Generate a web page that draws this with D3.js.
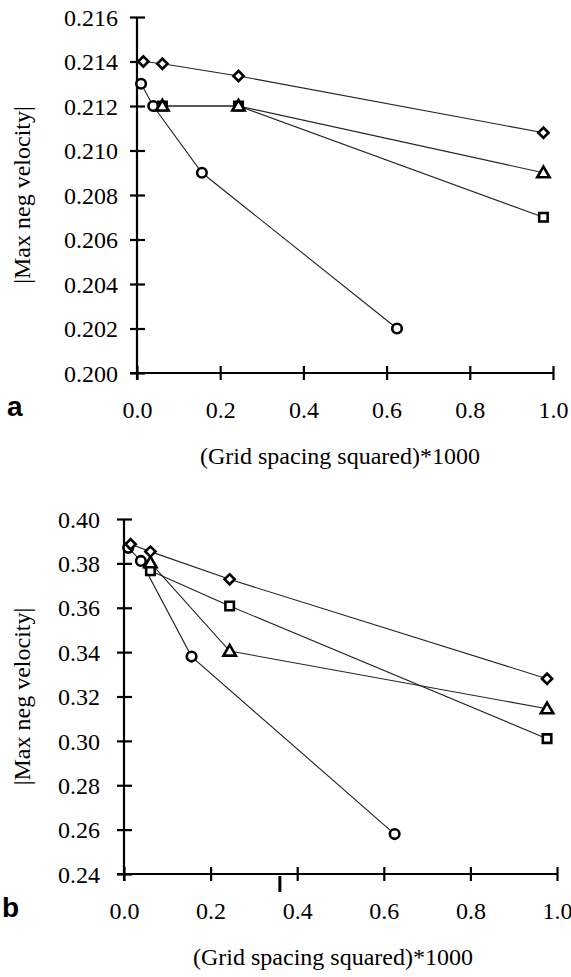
<!DOCTYPE html>
<html>
<head>
<meta charset="utf-8">
<script src="https://cdn.jsdelivr.net/npm/d3@7"></script>
<style>
  html, body { margin: 0; padding: 0; background: #fff; }
  svg { display: block; }
  svg text.serif { font-family: "Liberation Serif", "Times New Roman", Times, serif; }
</style>
</head>
<body>
<svg id="chart" width="571" height="977"></svg>
<script>
// ---- Data ----
// x values: (grid spacing squared)*1000
const xFine = [0.0153, 0.061, 0.244, 0.977];   // diamond series
const xMid = [0.061, 0.244, 0.977];             // square / triangle series
const xCircle = [0.0098, 0.039, 0.156, 0.625];  // circle series

// Panel a
const aDiamond = [0.2140, 0.2139, 0.21335, 0.2108];
const aSquare = [0.2120, 0.2120, 0.2070];
const aTriangle = [0.2120, 0.2120, 0.2090];
const aCircle = [0.2130, 0.2120, 0.2090, 0.2020];

// Panel b
const bDiamond = [0.3886, 0.3853, 0.3728, 0.3280];
const bSquare = [0.3767, 0.3608, 0.3010];
const bTriangle = [0.3803, 0.3405, 0.3145];
const bCircle = [0.3870, 0.3811, 0.3380, 0.2580];

const xTicks = [0.0, 0.2, 0.4, 0.6, 0.8, 1.0];
const aYTicks = [0.200, 0.202, 0.204, 0.206, 0.208, 0.210, 0.212, 0.214, 0.216];
const bYTicks = [0.24, 0.26, 0.28, 0.30, 0.32, 0.34, 0.36, 0.38, 0.40];

const xTitle = "(Grid spacing squared)*1000";
const yTitle = "|Max neg velocity|";

const svg = d3.select("#chart");
const SERIF = "\"Liberation Serif\", \"Times New Roman\", Times, serif";

function zip(xs, ys) { return xs.map((x, i) => ({x: x, y: ys[i]})); }

function drawPanel(opt) {
  const x = d3.scaleLinear().domain([0, 1]).range(opt.xRange);
  const y = d3.scaleLinear().domain(opt.yDomain).range(opt.yRange);
  const g = svg.append("g");

  // axes
  const yAxis = d3.axisLeft(y).tickValues(opt.yTicks).tickFormat(d3.format(opt.yFmt)).tickSizeOuter(0).tickSize(7);
  const gy = g.append("g").attr("transform", `translate(${opt.xRange[0]},0)`).call(yAxis);
  const xAxis = d3.axisBottom(x).tickValues(xTicks).tickFormat(d3.format(".1f")).tickSizeOuter(0).tickSize(7);
  const gx = g.append("g").attr("transform", `translate(0,${opt.yRange[0]})`).call(xAxis);

  [gy, gx].forEach(a => {
    a.attr("font-family", null).attr("font-size", null);
    a.select(".domain").attr("stroke", "#000").attr("stroke-width", 2.2);
    a.selectAll(".tick line").attr("stroke", "#000").attr("stroke-width", 2.2);
    a.selectAll(".tick text").attr("class", "serif").style("font-family", SERIF)
      .style("font-size", "24px").attr("fill", "#000");
  });
  gy.selectAll(".tick line").attr("x1", -7).attr("x2", 8);
  gy.selectAll(".tick text").attr("x", -opt.yLabelGap).attr("dy", "0.34em");
  gx.selectAll(".tick line").attr("y1", -7).attr("y2", 7);
  gx.selectAll(".tick text").attr("y", 45).attr("dy", 0);
  // extend axes lines through the corner
  gy.select(".domain").attr("d", `M0,${opt.yRange[1]}V${opt.yRange[0] + 7}`);
  gx.select(".domain").attr("d", `M${opt.xRange[0] - 7},0H${opt.xRange[1]}`);

  // lines
  const line = d3.line().x(d => x(d.x)).y(d => y(d.y));
  const series = [
    {pts: zip(xCircle, opt.circle), type: "circle"},
    {pts: zip(xMid, opt.square), type: "square"},
    {pts: zip(xMid, opt.triangle), type: "triangle"},
    {pts: zip(xFine, opt.diamond), type: "diamond"}
  ];
  series.forEach(s => {
    g.append("path").datum(s.pts).attr("d", line)
      .attr("fill", "none").attr("stroke", "#222").attr("stroke-width", 1.1);
  });
  const symType = {
    circle: d3.symbolCircle, square: d3.symbolSquare,
    triangle: d3.symbolTriangle, diamond: d3.symbolSquare
  };
  const symSize = {circle: 72, square: 72, triangle: 66, diamond: 52};
  series.forEach(s => {
    g.selectAll(null).data(s.pts).enter().append("path")
      .attr("d", d3.symbol().type(symType[s.type]).size(symSize[s.type]))
      .attr("transform", d => {
        const dy = s.type === "triangle" ? 1 : 0;
        return `translate(${x(d.x)},${y(d.y) + dy})` + (s.type === "diamond" ? " rotate(45)" : "");
      })
      .attr("fill", "#fff").attr("stroke", "#000")
      .attr("stroke-width", 2.6);
  });

  // titles
  g.append("text").attr("class", "serif").attr("x", opt.titleX).attr("y", opt.yRange[0] + 91)
    .attr("text-anchor", "middle").style("font-family", SERIF).style("font-size", "24px")
    .text(xTitle);
  const yc = (opt.yRange[0] + opt.yRange[1]) / 2;
  g.append("text").attr("class", "serif").attr("transform", `translate(30,${yc}) rotate(-90)`)
    .attr("text-anchor", "middle").style("font-family", SERIF).style("font-size", "24px")
    .text(yTitle);
  g.append("text").attr("x", opt.letterX).attr("y", opt.yRange[0] + 43)
    .style("font-family", "\"Liberation Sans\", Arial, sans-serif").style("font-weight", "bold")
    .style("font-size", "28px").text(opt.letter);

  return {x: x, y: y, g: g};
}

drawPanel({
  xRange: [137, 553], yRange: [373, 17], yDomain: [0.200, 0.216],
  yTicks: aYTicks, yFmt: ".3f", yLabelGap: 19,
  diamond: aDiamond, square: aSquare, triangle: aTriangle, circle: aCircle,
  titleX: 340, letter: "a", letterX: 7
});
const pb = drawPanel({
  xRange: [124, 557], yRange: [874, 519], yDomain: [0.24, 0.40],
  yTicks: bYTicks, yFmt: ".2f", yLabelGap: 24,
  diamond: bDiamond, square: bSquare, triangle: bTriangle, circle: bCircle,
  titleX: 333, letter: "b", letterX: 2
});
// small stray mark below panel b axis (present in the original scan)
pb.g.append("line").attr("x1", pb.x(0.36)).attr("x2", pb.x(0.36))
  .attr("y1", 876).attr("y2", 892).attr("stroke", "#000").attr("stroke-width", 3);
</script>
</body>
</html>
